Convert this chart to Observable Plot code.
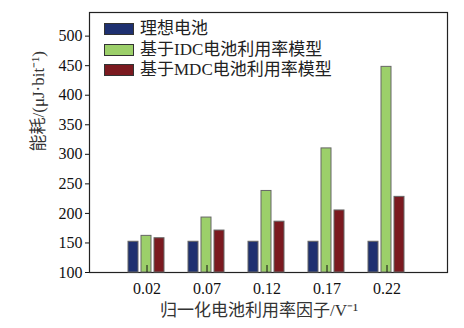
<!DOCTYPE html>
<html>
<head>
<meta charset="utf-8">
<script src="https://cdn.jsdelivr.net/npm/d3@7"></script>
<script src="https://cdn.jsdelivr.net/npm/@observablehq/plot@0.6"></script>
<style>
  html, body { margin: 0; padding: 0; background: #fff; }
  #wrap { position: relative; width: 464px; height: 328px; }
  #legend { position: absolute; left: 104px; top: 19px; font-family: 'Liberation Serif', 'Noto Sans CJK SC', serif; font-size: 17px; color: #222; line-height: 20.5px; }
  #legend .row { display: flex; align-items: center; white-space: nowrap; }
  #legend .sw { width: 30px; height: 12px; border: 1px solid #333; box-sizing: border-box; margin-right: 6px; }
</style>
</head>
<body>
<div id="wrap"><div id="legend"></div></div>
<script>
const categories = ["0.02", "0.07", "0.12", "0.17", "0.22"];
const seriesNames = ["理想电池", "基于IDC电池利用率模型", "基于MDC电池利用率模型"];
const idealValues = [152, 152, 152, 152, 152];
const idcValues = [162, 193, 238, 310, 448];
const mdcValues = [158, 171, 186, 205, 228];
const seriesColors = ["#1e3070", "#9ccf6a", "#7b1a20"];
const yTicks = [100, 150, 200, 250, 300, 350, 400, 450, 500];
const yLabel = "能耗/(μJ·bit⁻¹)";
const xLabel = "归一化电池利用率因子/V⁻¹";

const seriesValues = [idealValues, idcValues, mdcValues];
const table = [];
categories.forEach((c, i) => {
  seriesNames.forEach((s, j) => table.push({category: c, series: s, value: seriesValues[j][i]}));
});

const font = "'Liberation Serif', 'Noto Sans CJK SC', serif";

const chart = Plot.plot({
  width: 464,
  height: 328,
  marginLeft: 127,
  marginRight: 58,
  marginTop: 12,
  marginBottom: 56,
  style: {fontFamily: font, fontSize: "16px", color: "#111", background: "#fff", overflow: "visible"},
  fx: {domain: categories, paddingInner: 0.358, paddingOuter: 0, label: null},
  x: {domain: seriesNames, paddingInner: 0.2, paddingOuter: 0, axis: null},
  y: {domain: [100, 540], label: null, axis: null},
  color: {domain: seriesNames, range: seriesColors},
  marks: [
    Plot.frame({facet: "super", stroke: "#222", strokeWidth: 1.2, insetLeft: -38, insetRight: -41}),
    Plot.barY(table, {fx: "category", x: "series", y1: 100, y2: "value", fill: "series", stroke: "#666", strokeWidth: 1}),
    Plot.axisY({ticks: yTicks, tickSize: 4, tickPadding: 3, fontSize: 16, label: null, dx: -38}),
    Plot.axisFx({anchor: "bottom", tickSize: -7, tickPadding: 17, fontSize: 16, label: null}),
    Plot.text([yLabel], {facet: "super", frameAnchor: "left", dx: -89, dy: 9, rotate: -90, fontSize: 17, text: d => d, fill: "#333"}),
    Plot.text([xLabel], {facet: "super", frameAnchor: "bottom", dy: 43, dx: -8, fontSize: 17, text: d => d, fill: "#333"})
  ]
});

document.getElementById("wrap").prepend(chart);

const legend = document.getElementById("legend");
seriesNames.forEach((name, i) => {
  const row = document.createElement("div");
  row.className = "row";
  const sw = document.createElement("span");
  sw.className = "sw";
  sw.style.background = seriesColors[i];
  const t = document.createElement("span");
  t.textContent = name;
  row.appendChild(sw);
  row.appendChild(t);
  legend.appendChild(row);
});
</script>
</body>
</html>
